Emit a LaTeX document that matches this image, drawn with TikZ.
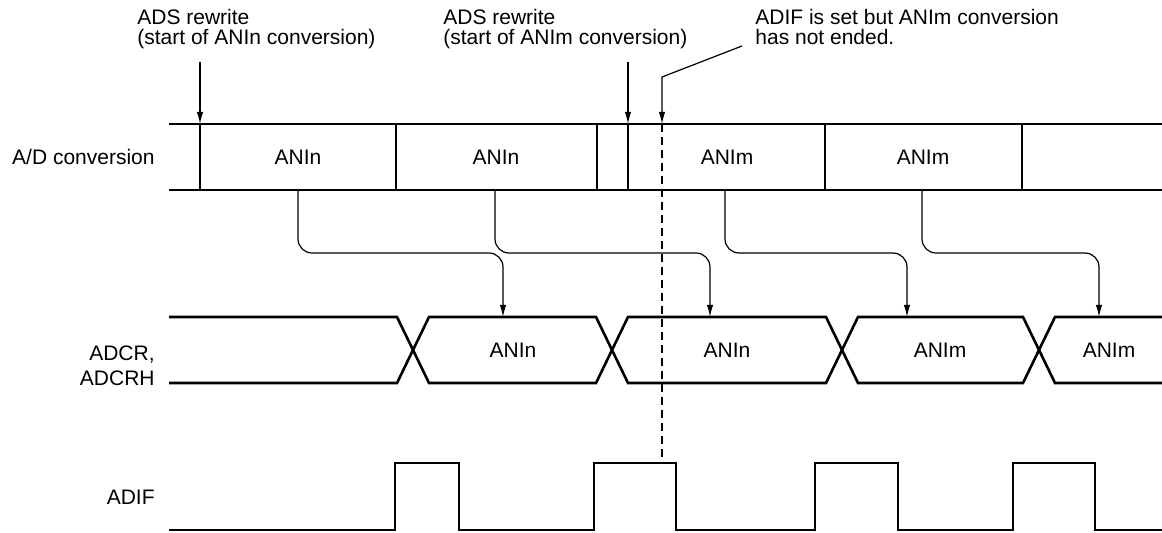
\documentclass[tikz,border=0pt]{standalone}
\usepackage{fontspec}
\setmainfont{Liberation Sans}
\usetikzlibrary{arrows.meta}

\begin{document}
\begin{tikzpicture}[x=0.5pt,y=-0.5pt,font=\fontsize{10.5}{10}\selectfont,
  sig/.style={draw=black,line width=1.3pt,line join=miter},
  divider/.style={draw=black,line width=0.7pt},
  conn/.style={draw=black,line width=0.6pt,rounded corners=7pt,-{Latex[length=6pt,width=3.2pt]}},
  pointer/.style={draw=black,line width=0.6pt,-{Latex[length=6pt,width=3.2pt]}},
  guide/.style={draw=black,line width=0.6pt,dash pattern=on 4pt off 2.5pt},
  siglabel/.style={anchor=east,align=right,inner sep=0pt},
  note/.style={anchor=north west,align=left,inner sep=0pt}]
\useasboundingbox (0,0) rectangle (1162,533);
% signal names
\node[siglabel] (adlbl) at (155,157) {A/D conversion};
\node[siglabel] (adcrlbl) at (155,366) {ADCR,\\[2.5pt]ADCRH};
\node[siglabel] (adiflbl) at (155,497) {ADIF};
% notes on top
\node[note] (rw1) at (137,9) {ADS rewrite\\(start of ANIn conversion)};
\node[note] (rw2) at (443,9) {ADS rewrite\\(start of ANIm conversion)};
\node[note] (unended) at (755,9) {ADIF is set but ANIm conversion\\has not ended.};
% A/D conversion row
\draw[sig] (169,124) -- (1162,124);
\draw[sig] (169,190) -- (1162,190);
\foreach \x in {200,396,597,628,825,1022}
  \draw[divider] (\x,124) -- (\x,190);
\foreach \x/\txt [count=\i] in {298/ANIn,496/ANIn,727/ANIm,923/ANIm}
  \node (ad\i) at (\x,157) {\txt};
% ADCR, ADCRH row
\draw[sig] (169,317) -- (397,317) -- (429,383) -- (596,383) -- (628,317) -- (826,317)
  -- (858,383) -- (1023,383) -- (1055,317) -- (1162,317);
\draw[sig] (169,383) -- (397,383) -- (429,317) -- (596,317) -- (628,383) -- (826,383)
  -- (858,317) -- (1023,317) -- (1055,383) -- (1162,383);
\foreach \x/\txt [count=\i] in {513/ANIn,727/ANIn,940/ANIm,1109/ANIm}
  \node (adcr\i) at (\x,350) {\txt};
% ADIF row
\draw[sig] (169,530) -- (395,530) -- (395,463) -- (459,463) -- (459,530)
  -- (594,530) -- (594,463) -- (676,463) -- (676,530)
  -- (815,530) -- (815,463) -- (898,463) -- (898,530)
  -- (1013,530) -- (1013,463) -- (1095,463) -- (1095,530) -- (1162,530);
% result transfer
\foreach \src/\dst [count=\i] in {298/503,495/710,725/907,922/1099}{
  \coordinate (from\i) at (\src,190);
  \coordinate (to\i) at (\dst,317);
  \draw[conn] (from\i) -- (\src,253) -| (to\i);
}
% rewrite points
\coordinate (rw1tip) at (200,124);
\coordinate (rw2tip) at (628,124);
\draw[pointer] (200,62) -- (rw1tip);
\draw[pointer] (628,62) -- (rw2tip);
\coordinate (settip) at (662,124);
\coordinate (setlow) at (662,463);
\draw[pointer] (742,46) -- (662,77) -- (settip);
\draw[guide] (settip) -- (setlow);
\end{tikzpicture}
\end{document}
